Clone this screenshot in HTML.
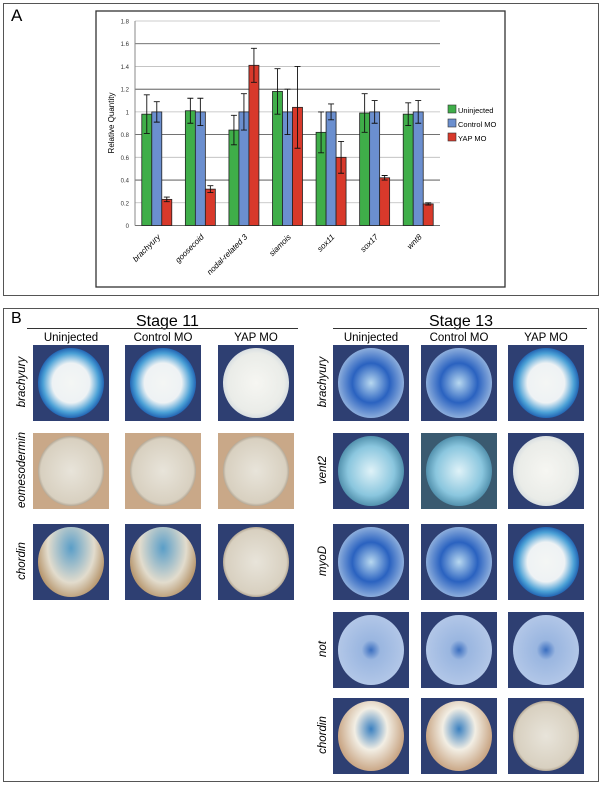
<!DOCTYPE html>
<html><head><meta charset="utf-8"><style>
body{margin:0;width:603px;height:786px;background:#fff;position:relative;overflow:hidden;font-family:"Liberation Sans",sans-serif}
.box{position:absolute;border:1.5px solid #555}
.lbl{position:absolute;font-size:16px}
.img{position:absolute;width:76px;height:76px;overflow:hidden}
.egg{position:absolute;left:5px;top:3px;width:66px;height:70px;border-radius:50%}
.h{position:absolute;font-size:11.5px;width:80px;text-align:center}
.rl{position:absolute;font-size:11.5px;font-style:italic;transform:rotate(-90deg);transform-origin:center;width:80px;text-align:center}
</style></head><body>
<div class="box" style="left:3px;top:3px;width:594px;height:291px"></div>
<div class="lbl" style="left:11px;top:6px;font-size:17px">A</div>
<svg id="chart" style="position:absolute;left:0;top:0" width="603" height="300"></svg>
<div class="box" style="left:3px;top:308px;width:594px;height:472px"></div>
<div class="lbl" style="left:11px;top:310px">B</div>
<div class="lbl" style="left:136px;top:313px">Stage 11</div>
<div style="position:absolute;left:27px;top:328px;width:271px;height:1px;background:#333"></div>
<div class="lbl" style="left:429px;top:313px">Stage 13</div>
<div style="position:absolute;left:333px;top:328px;width:254px;height:1px;background:#333"></div>
<div id="grid"></div>
<script>
const categories=["brachyury","goosecoid","nodal-related 3","siamois","sox11","sox17","wnt8"];
const uninj=[0.98,1.01,0.84,1.18,0.82,0.99,0.98];
const uninjErr=[0.17,0.11,0.13,0.20,0.18,0.17,0.10];
const ctrl=[1.0,1.0,1.0,1.0,1.0,1.0,1.0];
const ctrlErr=[0.09,0.12,0.16,0.20,0.07,0.10,0.10];
const yap=[0.23,0.32,1.41,1.04,0.60,0.42,0.19];
const yapErr=[0.02,0.03,0.15,0.36,0.14,0.02,0.01];
const ticks=[0,0.2,0.4,0.6,0.8,1,1.2,1.4,1.6,1.8];
const seriesNames=["Uninjected","Control MO","YAP MO"];
const NS="http://www.w3.org/2000/svg";
const svg=document.getElementById('chart');
function el(t,a){const e=document.createElementNS(NS,t);for(const k in a)e.setAttribute(k,a[k]);svg.appendChild(e);return e;}
const x0=135,x1=440,yb=225.5,yt=21;
const y=v=>yb-(v/1.8)*(yb-yt);
const bw=(x1-x0)/categories.length;
let r=el('rect',{x:96,y:11,width:409,height:276,fill:'none',stroke:'#333','stroke-width':1.3});

ticks.forEach((t,i)=>{
 const g=el('line',{x1:x0,x2:x1,y1:y(t),y2:y(t),stroke:i%2?'#bbb':'#444','stroke-width':0.8});
 
 const tx=el('text',{x:x0-6,y:y(t)+2.5,'font-size':6,'text-anchor':'end',fill:'#333'});tx.textContent=t;
 
});
let ax=el('line',{x1:x0,x2:x0,y1:yt,y2:yb,stroke:'#888'});
let yl=el('text',{x:0,y:0,'font-size':8,'text-anchor':'middle',transform:`translate(114,123) rotate(-90)`});yl.textContent='Relative Quantity';

const cols=['#3fae49','#6b8fcf','#d8392b'];
const vals=[uninj,ctrl,yap],errs=[uninjErr,ctrlErr,yapErr];
categories.forEach((c,i)=>{
 const cx=x0+bw*(i+0.5);
 for(let s=0;s<3;s++){
  const v=vals[s][i],e=errs[s][i],bx=cx-15+s*10;
  const b=el('rect',{x:bx,y:y(v),width:10,height:yb-y(v),fill:cols[s],stroke:'#222','stroke-width':0.8});
  
  const m=bx+5;
  const eb=el('path',{d:`M${m},${y(v+e)}V${y(v-e)}M${m-3},${y(v+e)}H${m+3}M${m-3},${y(v-e)}H${m+3}`,stroke:'#111','stroke-width':0.9,fill:'none'});
  
 }
 const t=el('text',{x:0,y:0,'font-size':8,'font-style':'italic','text-anchor':'end',transform:`translate(${cx+4},${yb+12}) rotate(-45)`});t.textContent=c;
 
});
seriesNames.forEach((n,i)=>{
 const ly=105+i*14;
 const q=el('rect',{x:448,y:ly,width:8,height:8,fill:cols[i],stroke:'#333','stroke-width':0.6});
 
 const t=el('text',{x:458,y:ly+8,'font-size':7.5});t.textContent=n;
 
});
const grid=document.getElementById('grid');
function add(html){grid.insertAdjacentHTML('beforeend',html);}
const headers=['Uninjected','Control MO','YAP MO'];
const c11=[33,125,218],c13=[333,421,508];
headers.forEach((h,i)=>{
 add(`<div class="h" style="left:${c11[i]-2}px;top:332px">${h}</div>`);
 add(`<div class="h" style="left:${c13[i]-2}px;top:332px">${h}</div>`);
});
const bluebg='#2e3f72';
function img(x,yy,bg,eggBg,name){
 add(`<div class="img" style="left:${x}px;top:${yy}px;background:${bg}"><div class="egg" style="background:${eggBg}"></div></div>`);
}
const ring='radial-gradient(ellipse at 50% 50%,#f4f6f4 0%,#eef2f4 40%,#4aa0d6 60%,#1e5fb0 72%,#c8d2dc 80%)';
const pale='radial-gradient(ellipse at 50% 50%,#f6f6f2 0%,#eaece8 60%,#c9d3dc 80%)';
const brown='radial-gradient(ellipse at 50% 50%,#e8e4da 0%,#d8d0c0 65%,#7a6650 80%)';
const chordBlue='radial-gradient(ellipse at 50% 30%,#5a9ec8 0%,#e2dccd 50%,#b89870 75%)';
const rows11=[[345,'brachyury',[ring,ring,pale],bluebg],[433,'eomesodermin',[brown,brown,brown],'#c9a888'],[524,'chordin',[chordBlue,chordBlue,brown],bluebg]];
rows11.forEach(([yy,n,eg,bg])=>{
 add(`<div class="rl" style="left:-18px;top:${yy+31}px">${n}</div>`);
 eg.forEach((e,i)=>img(c11[i],yy,bg,e,'embryo-image'));
});
const blueEgg='radial-gradient(ellipse at 50% 50%,#b8d8f0 0%,#2a62c0 40%,#9ab8e0 75%)';
const vent='radial-gradient(ellipse at 50% 50%,#dff2f8 0%,#8ac6de 50%,#3a7a98 80%)';
const notE='radial-gradient(ellipse at 50% 50%,#3a6ec0 0%,#9ab6e0 20%,#b4c8e8 75%)';
const chordE='radial-gradient(ellipse at 50% 40%,#3a80c0 0%,#f2eee4 35%,#c09670 80%)';
const rows13=[[345,'brachyury',[blueEgg,blueEgg,ring]],[433,'vent2',[vent,vent,pale]],[524,'myoD',[blueEgg,blueEgg,ring]],[612,'not',[notE,notE,notE]],[698,'chordin',[chordE,chordE,brown]]];
rows13.forEach(([yy,n,eg])=>{
 add(`<div class="rl" style="left:283px;top:${yy+31}px">${n}</div>`);
 eg.forEach((e,i)=>img(c13[i],yy,i==1&&n=='vent2'?'#3a5a70':bluebg,e,'embryo-image'));
});
</script>
</body></html>
